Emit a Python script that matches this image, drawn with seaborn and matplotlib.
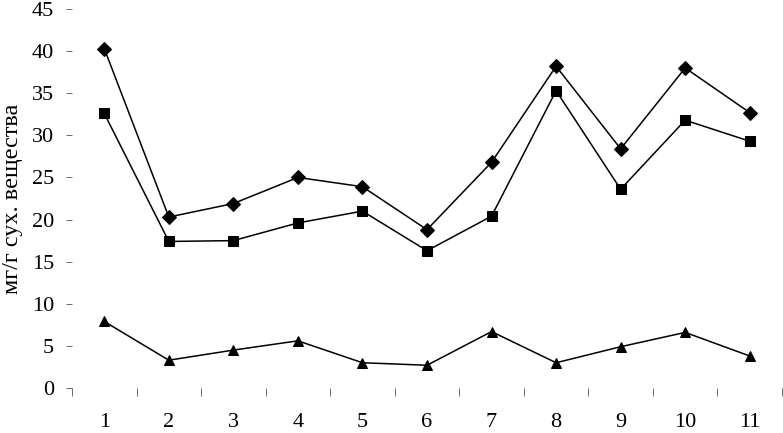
import numpy as np
import pandas as pd
import matplotlib
matplotlib.use("Agg")
import matplotlib.pyplot as plt
import seaborn as sns

# values
points = list(range(1, 12))
diamond_vals = [40.3, 20.3, 21.9, 25.0, 23.9, 18.8, 26.8, 38.2, 28.4, 38.0, 32.7]
square_vals = [32.6, 17.4, 17.5, 19.6, 21.0, 16.3, 20.4, 35.3, 23.6, 31.8, 29.3]
triangle_vals = [7.9, 3.3, 4.5, 5.6, 3.0, 2.7, 6.7, 3.0, 4.9, 6.6, 3.8]
y_label = "мг/г сух. вещества"

sns.set_theme(style="white")
plt.rcParams["font.family"] = ["Liberation Serif", "DejaVu Serif"]

# long-form table for seaborn
df = pd.concat([
    pd.DataFrame({"pos": np.arange(len(points)), "value": diamond_vals, "series": "a"}),
    pd.DataFrame({"pos": np.arange(len(points)), "value": square_vals, "series": "b"}),
    pd.DataFrame({"pos": np.arange(len(points)), "value": triangle_vals, "series": "c"}),
], ignore_index=True)

fig = plt.figure(figsize=(7.83, 4.33), dpi=100)
ax = fig.add_axes([72 / 783, 1 - 388 / 433, 710 / 783, 379 / 433])

sns.lineplot(
    data=df, x="pos", y="value", hue="series", style="series",
    palette=["black", "black", "black"],
    markers={"a": "D", "b": "s", "c": "^"},
    dashes=False, linewidth=1.1, markersize=7,
    markeredgecolor="black", legend=False, ax=ax,
)
# triangles a touch bigger
for line, ms in zip(ax.lines, [7, 7, 7.5]):
    line.set_markersize(ms)

ax.set_xlim(-0.5, len(points) - 0.5)
ax.set_ylim(0, 45)
ax.set_yticks(np.arange(0, 46, 5))
ax.set_xticks(np.arange(len(points)))
ax.set_xticklabels([str(p) for p in points])
ax.set_xticks(np.arange(-0.5, len(points)), minor=True)

for s in ax.spines.values():
    s.set_visible(False)

ax.tick_params(axis="y", which="major", left=True, length=4, width=0.6,
               color="#555555", labelsize=16, pad=9, labelcolor="black")
ax.tick_params(axis="x", which="major", bottom=False, length=0, labelsize=16,
               pad=18, labelcolor="black")
ax.tick_params(axis="x", which="minor", bottom=True, length=6, width=0.6,
               color="#555555")

ax.set_xlabel("")
ax.set_ylabel(y_label, fontsize=17.5, labelpad=6, color="black")

fig.savefig("out.png", dpi=100)
